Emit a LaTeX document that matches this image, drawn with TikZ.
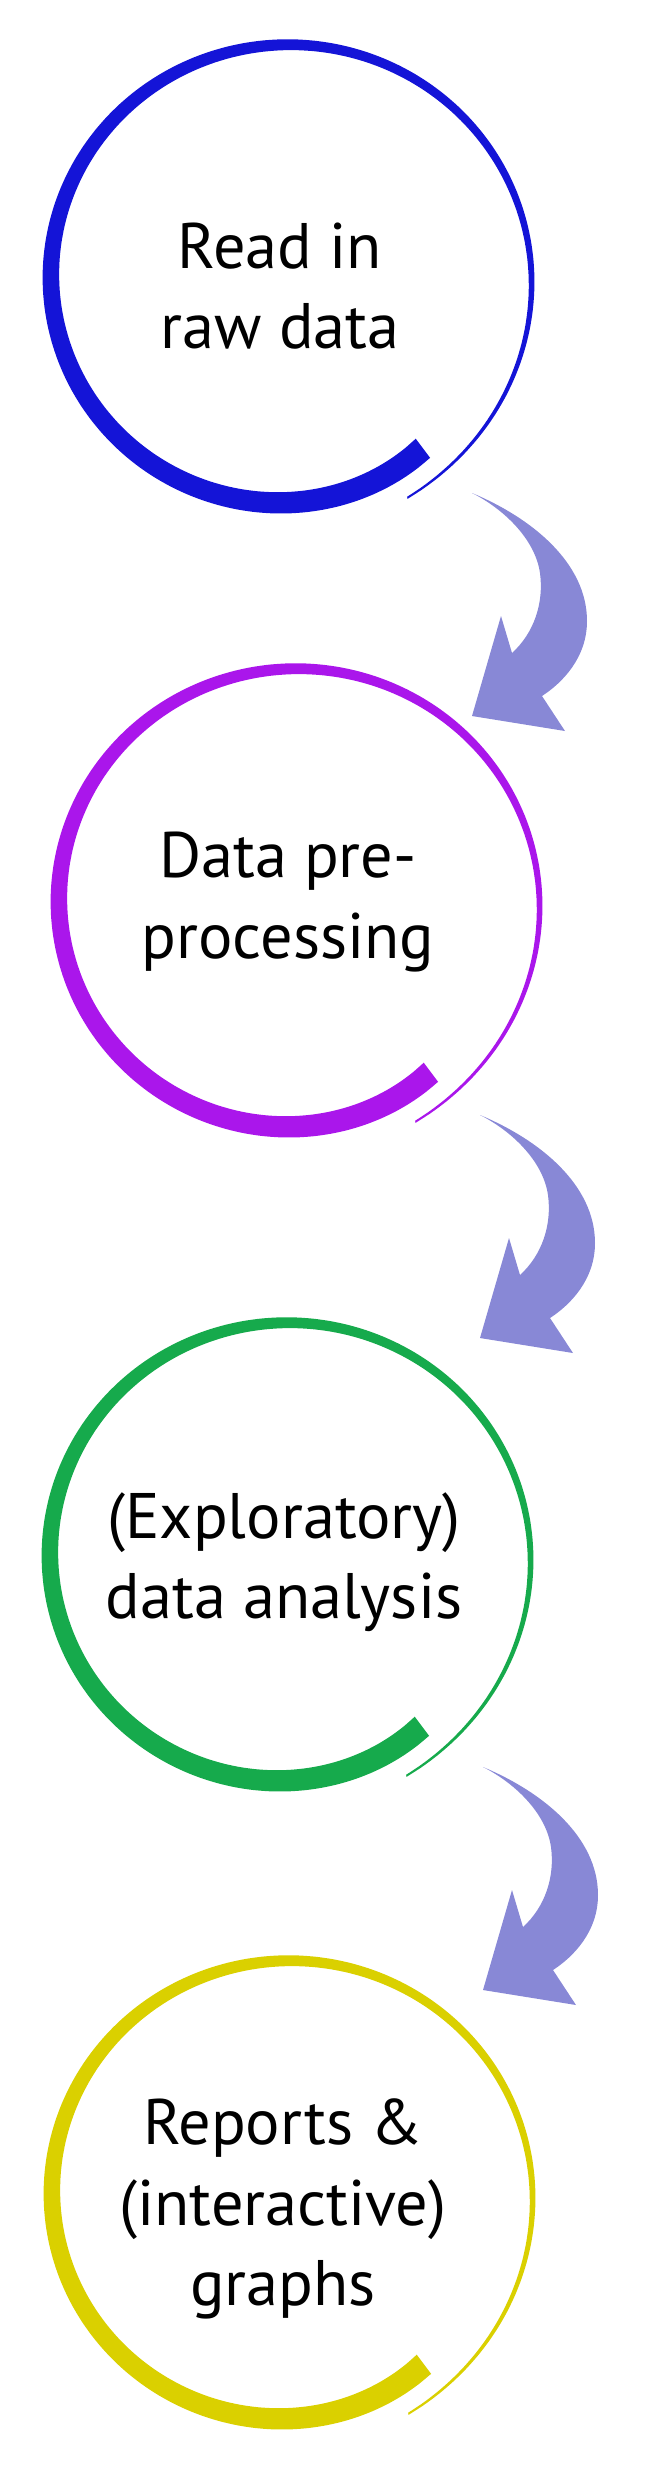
\documentclass[tikz,border=0pt]{standalone}
\usepackage{fontspec}
\setmainfont{PT Sans}
\definecolor{ringblue}{RGB}{20,20,215}
\definecolor{ringpurple}{RGB}{170,22,235}
\definecolor{ringgreen}{RGB}{22,170,76}
\definecolor{ringyellow}{RGB}{218,208,0}
\definecolor{arrowblue}{RGB}{136,136,214}

\begin{document}
\begin{tikzpicture}[x=0.01cm, y=0.01cm,
		steptext/.style={align=center, font=\fontsize{18.3}{22.8}\selectfont},
		bentarrow/.style={fill=arrowblue}]
			\useasboundingbox (0,0) rectangle (662,-2471);

			% brush rings
			\foreach \cx/\cy/\col in {287/278/ringblue, 295/902/ringpurple, 286/1556/ringgreen, 288/2194/ringyellow}{
				\begin{scope}[shift={(\cx,-\cy)}, xscale=1.01, yscale=0.985]
					\fill[\col] plot[domain=0:1, samples=90, smooth, variable=\t] ({-62+370*\t}:{242+12*exp(-8.3*\t)-11*\t^12})
						-- plot[domain=1:0, samples=90, smooth, variable=\t] ({-62+370*\t}:{240+12*exp(-8.3*\t)-11*\t^12-22*\t}) -- cycle;
				\end{scope}
			}

			\node[steptext] (rawdata) at (280,-286) {Read in\\raw data};
			\node[steptext] (preproc) at (288,-902) {Data pre-\\processing};
			\node[steptext] (analysis) at (284,-1562) {(Exploratory)\\data analysis};
			\node[steptext] (reports) at (283,-2209) {Reports \&\\(interactive)\\graphs};

			% curved arrows
			\coordinate (arr1) at (472,-493);
			\coordinate (arr2) at (480,-1115);
			\coordinate (arr3) at (483,-1767);
			\foreach \a in {arr1, arr2, arr3}{
				\begin{scope}[shift={(\a)}, yscale=-1]
					\fill[bentarrow] (0,0) .. controls (60,25) and (115,70) .. (115,128)
						.. controls (115,165) and (90,190) .. (70,203)
						-- (93,238) -- (0,223) -- (29,123) -- (40,160)
						.. controls (62,140) and (72,110) .. (68,80)
						.. controls (63,45) and (30,15) .. (0,0) -- cycle;
				\end{scope}
			}
		\end{tikzpicture}
\end{document}
